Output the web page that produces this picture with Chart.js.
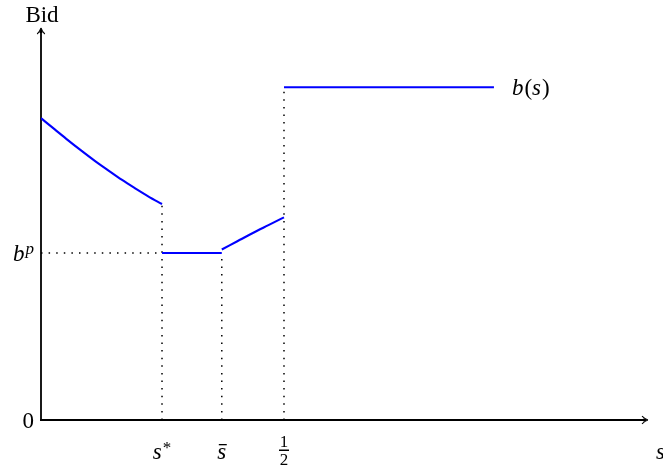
<!DOCTYPE html>
<html><head><meta charset="utf-8">
<script src="https://cdn.jsdelivr.net/npm/chart.js@4/dist/chart.umd.min.js"></script>
<style>html,body{margin:0;padding:0;background:#fff;overflow:hidden}#wrap{width:663px;height:473px;position:relative}</style>
</head><body><div id="wrap"><canvas id="c" width="663" height="473"></canvas></div>
<script>
// ---- data ----
const curveLowX = [0, 0.0277, 0.0553, 0.083, 0.1107, 0.1383, 0.166, 0.1937, 0.2213, 0.249];
const curveLowY = [0.770, 0.742, 0.714, 0.687, 0.661, 0.637, 0.613, 0.591, 0.570, 0.551];
const poolX = [0.249, 0.372];
const poolY = [0.426, 0.426];
const riseX = [0.372, 0.404, 0.436, 0.468, 0.5];
const riseY = [0.435, 0.456, 0.477, 0.497, 0.517];
const topX = [0.5, 0.932];
const topY = [0.849, 0.849];
const xTickValues = [0.249, 0.372, 0.5];
const xTickLabels = ['s*', 's\u0304', '1/2'];
const guideTopY = [0.551, 0.426, 0.849];
const yTickValues = [0, 0.426];
const yTickLabels = ['0', 'b^p'];
const seriesLabel = 'b(s)';
const xAxisTitle = 's';
const yAxisTitle = 'Bid';

const pts = (xs, ys) => xs.map((x, i) => ({x, y: ys[i]}));
const BLUE = '#0000ff';
const blueDs = (d) => ({data: d, borderColor: BLUE, borderWidth: 2.1, pointRadius: 0, cubicInterpolationMode: 'monotone', fill: false});
const dotDs = (d) => ({data: d, borderColor: '#000', borderWidth: 1.5, borderDash: [1.5, 6.1], pointRadius: 0, fill: false});

const datasets = [
  blueDs(pts(curveLowX, curveLowY)),
  blueDs(pts(poolX, poolY)),
  blueDs(pts(riseX, riseY)),
  blueDs(pts(topX, topY)),
];
xTickValues.forEach((v, i) => datasets.push(dotDs([{x: v, y: 0}, {x: v, y: guideTopY[i]}])));
datasets.push(dotDs([{x: 0, y: yTickValues[1]}, {x: xTickValues[0], y: yTickValues[1]}]));

const SERIF = "'Liberation Serif', 'Times New Roman', serif";
const FS = 23;

function drawMath(ctx, label, cx, baseline, align) {
  if (label.includes('/')) {
    const [n, d] = label.split('/');
    ctx.font = `17px ${SERIF}`;
    ctx.textAlign = 'center';
    ctx.fillText(n, cx, baseline - 12);
    ctx.fillText(d, cx, baseline + 6);
    ctx.fillRect(cx - 5, baseline - 9.5, 10, 1.5);
    return;
  }
  let bar = false;
  if (label.includes('\u0304')) { bar = true; label = label.replace('\u0304', ''); }
  let base = label, sup = null, supItalic = true;
  if (label.endsWith('*')) { base = label.slice(0, -1); sup = '*'; supItalic = false; }
  else if (label.includes('^')) { [base, sup] = label.split('^'); }
  const baseItalic = /[a-z]/i.test(base);
  const bFont = `${baseItalic ? 'italic ' : ''}${FS}px ${SERIF}`;
  const sFont = `${supItalic ? 'italic ' : ''}17px ${SERIF}`;
  ctx.font = bFont; const bw = ctx.measureText(base).width;
  let sw = 0; if (sup) { ctx.font = sFont; sw = ctx.measureText(sup).width + 1; }
  const total = bw + sw;
  let left = align === 'right' ? cx - total : cx - total / 2;
  ctx.textAlign = 'left';
  ctx.font = bFont; ctx.fillText(base, left, baseline);
  if (bar) ctx.fillRect(left + 1.5, baseline - 15, bw - 1, 1.3);
  if (sup) { ctx.font = sFont; ctx.fillText(sup, left + bw + 1, baseline - (sup === '*' ? 6 : 7)); }
}

const decor = {
  id: 'decor',
  beforeDatasetsDraw(chart) {
    const {ctx, scales: {x, y}} = chart;
    const x0 = x.getPixelForValue(0), y0 = y.getPixelForValue(0);
    const xr = x.getPixelForValue(x.max), yt = y.getPixelForValue(y.max);
    ctx.save();
    ctx.strokeStyle = '#000'; ctx.fillStyle = '#000'; ctx.lineWidth = 1.8;
    ctx.beginPath(); ctx.moveTo(x0 - 0.9, y0); ctx.lineTo(xr - 2, y0); ctx.stroke();
    ctx.beginPath(); ctx.moveTo(x0, y0 + 0.9); ctx.lineTo(x0, yt + 2); ctx.stroke();
    ctx.lineWidth = 1.1;
    ctx.beginPath();
    ctx.moveTo(xr, y0); ctx.quadraticCurveTo(xr - 3, y0 - 0.8, xr - 6, y0 - 3.8);
    ctx.moveTo(xr, y0); ctx.quadraticCurveTo(xr - 3, y0 + 0.8, xr - 6, y0 + 3.8);
    ctx.moveTo(x0, yt); ctx.quadraticCurveTo(x0 - 0.8, yt + 3, x0 - 3.8, yt + 6);
    ctx.moveTo(x0, yt); ctx.quadraticCurveTo(x0 + 0.8, yt + 3, x0 + 3.8, yt + 6);
    ctx.stroke();
    ctx.beginPath(); ctx.moveTo(xr, y0); ctx.lineTo(xr - 5, y0 - 1.6); ctx.lineTo(xr - 5, y0 + 1.6); ctx.closePath(); ctx.fill();
    ctx.beginPath(); ctx.moveTo(x0, yt); ctx.lineTo(x0 - 1.6, yt + 5); ctx.lineTo(x0 + 1.6, yt + 5); ctx.closePath(); ctx.fill();
    ctx.restore();
  },
  afterDraw(chart) {
    const {ctx, scales: {x, y}} = chart;
    ctx.save();
    ctx.fillStyle = '#000'; ctx.textBaseline = 'alphabetic';
    xTickValues.forEach((v, i) => drawMath(ctx, xTickLabels[i], x.getPixelForValue(v), 459, 'center'));
    yTickValues.forEach((v, i) => drawMath(ctx, yTickLabels[i], x.getPixelForValue(0) - 7, y.getPixelForValue(v) + 8, 'right'));
    ctx.font = `${FS}px ${SERIF}`; ctx.textAlign = 'center';
    ctx.fillText(yAxisTitle, x.getPixelForValue(0) + 1, 22);
    ctx.font = `italic ${FS}px ${SERIF}`; ctx.textAlign = 'left';
    ctx.fillText(xAxisTitle, x.getPixelForValue(x.max) + 8, 459);
    const lx = x.getPixelForValue(topX[1]) + 18, ly = y.getPixelForValue(topY[1]) + 8;
    let cx = lx;
    const m = seriesLabel.match(/^(\w)\((\w)\)$/);
    const segs = [[m[1], true], ['(', false], [m[2], true], [')', false]];
    segs.forEach(([t, it]) => {
      ctx.font = `${it ? 'italic ' : ''}${FS}px ${SERIF}`;
      ctx.fillText(t, cx, ly);
      cx += ctx.measureText(t).width + (it ? 1 : 0);
    });
    ctx.restore();
  }
};

new Chart(document.getElementById('c'), {
  type: 'line',
  data: {datasets},
  options: {
    responsive: false, animation: false, devicePixelRatio: 1,
    layout: {padding: {left: 41, right: 15, top: 28, bottom: 53}},
    plugins: {legend: {display: false}, tooltip: {enabled: false}},
    scales: {
      x: {type: 'linear', min: 0, max: 1.249, display: false},
      y: {type: 'linear', min: 0, max: 1.0, display: false}
    },
    elements: {line: {borderCapStyle: 'butt'}}
  },
  plugins: [decor]
});
</script></body></html>
